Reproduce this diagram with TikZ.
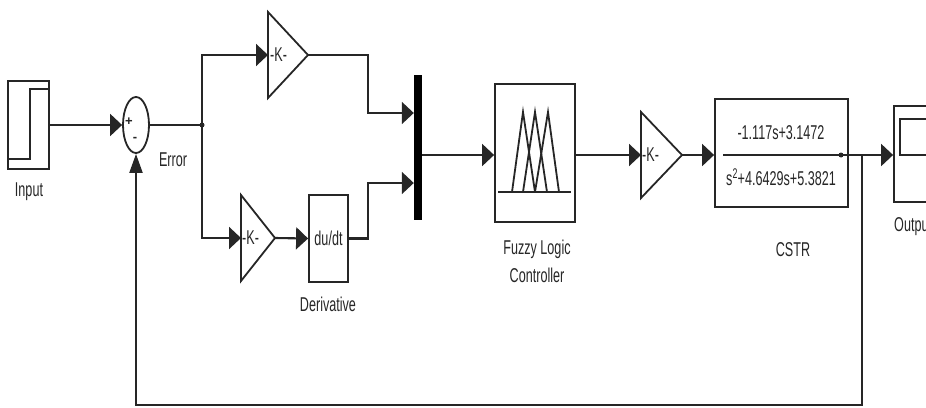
\documentclass[tikz,border=0pt]{standalone}
\usepackage{fontspec}
\setmainfont{Liberation Sans}
\usepackage{graphicx}
\usetikzlibrary{arrows.meta,shapes.geometric}
\newcommand{\sqz}[1]{\scalebox{0.63}[1]{#1}}
\begin{document}
\begin{tikzpicture}[x=1pt,y=-1pt,
  line/.style={draw=black!85, line width=2.1pt},
  blk/.style={draw=black!85, line width=1.8pt, inner sep=0pt},
  sig/.style={line, -{Triangle[length=12pt,width=22pt]}},
  vsig/.style={line, -{Triangle[length=19pt,width=13pt]}},
  lbl/.style={font=\fontsize{20}{22}\selectfont, inner sep=0pt, text=black!85},
  small/.style={font=\fontsize{13}{14}\selectfont\bfseries, inner sep=0pt, text=black!85},
  gbox/.style={inner sep=0pt, outer sep=0pt},
  dot/.style={circle, fill=black!85, inner sep=0pt, minimum size=5pt}
]
\useasboundingbox (0,0) rectangle (926,407);
\clip (0,0) rectangle (926,407);
\coordinate (lev) at (0,155);

% Input
\node[blk, rectangle, minimum width=41pt, minimum height=88pt] (in) at (28.5,125) {};
\draw[blk] (8,159) -- (30,159) -- (30,89) -- (49,89);
\node[lbl] (inl) at (29,192) {\sqz{Input}};

% Sum
\node[blk, ellipse, minimum width=26pt, minimum height=56pt] (sum) at (136,125) {};
\node[small] (plus) at (129,122) {+};
\node[small] (minus) at (135,139) {-};
\node[lbl] (err) at (173,160) {\sqz{Error}};

% branch
\coordinate (br) at (202,125);
\node[dot] (brd) at (br) {};

% gains
\node[gbox, minimum width=40pt, minimum height=86pt] (g1) at (288,55) {};
\draw[blk] (g1.north west) -- (g1.east) -- (g1.south west) -- cycle;
\node[lbl, anchor=west] (g1l) at ([xshift=2pt]g1.west) {\sqz{-K-}};

\node[gbox, minimum width=34pt, minimum height=86pt] (g2) at (258,238) {};
\draw[blk] (g2.north west) -- (g2.east) -- (g2.south west) -- cycle;
\node[lbl, anchor=west] (g2l) at ([xshift=1pt]g2.west) {\sqz{-K-}};

\node[gbox, minimum width=41pt, minimum height=86pt] (g3) at (661.5,155) {};
\draw[blk] (g3.north west) -- (g3.east) -- (g3.south west) -- cycle;
\node[lbl, anchor=west] (g3l) at ([xshift=1pt]g3.west) {\sqz{-K-}};

% derivative
\node[blk, rectangle, minimum width=39pt, minimum height=87pt] (der) at (328.5,238.5) {};
\node[lbl] (derl) at (der.center) {\sqz{du/dt}};
\node[lbl] (derc) at (328,304) {\sqz{Derivative}};

% mux
\node[rectangle, fill=black, inner sep=0pt, minimum width=8pt, minimum height=145pt] (mux) at (418,147.5) {};

% fuzzy
\node[blk, rectangle, minimum width=80pt, minimum height=138pt] (fz) at (535,153) {};
\draw[blk] (498,192) -- (571,192);
\draw[blk] (512,192) -- (523,112) -- (535,192);
\draw[blk] (523,192) -- (535,112) -- (547,192);
\draw[blk] (535,192) -- (548,112) -- (559,192);
\node[lbl] (fzl1) at (537,249) {\sqz{Fuzzy Logic}};
\node[lbl] (fzl2) at (537,275) {\sqz{Controller}};

% CSTR
\node[blk, rectangle, minimum width=133pt, minimum height=108pt] (cstr) at (781.5,153) {};
\node[lbl] (num) at (781,133) {\sqz{-1.117s+3.1472}};
\node[lbl] (den) at (781,177) {\sqz{s\textsuperscript{2}+4.6429s+5.3821}};
\node[lbl] (cstrl) at (793,250) {\sqz{CSTR}};
\coordinate (fr) at (723,155);
\node[dot, minimum size=5pt] (frd) at (841,155) {};

% Output
\node[blk, rectangle, minimum width=70pt, minimum height=96pt] (out) at (929,154) {};
\draw[blk] (900,119) rectangle (960,155);
\node[lbl, anchor=west] (outl) at (894,227) {\sqz{Output}};

% connectors
\draw[sig] (in.east |- sum.west) -- (sum.west);
\draw[line] (sum.east) -- (br);
\draw[sig] (br) |- (g1.west);
\draw[sig] (br) |- (g2.west);
\coordinate (k1) at (368,113);
\coordinate (k2) at (368,183);
\draw[sig] (g1.east) -| (k1) -- (mux.west |- k1);
\draw[sig] (g2.east) -- (der.west);
\draw[sig] (der.east) -| (k2) -- (mux.west |- k2);
\draw[sig] (mux.east |- lev) -- (fz.west |- lev);
\draw[sig] (fz.east |- lev) -- (g3.west);
\draw[sig] (g3.east) -- (cstr.west |- g3.east);
\draw[sig] (fr) -- (out.west |- lev);
\coordinate (fb) at (862,155);
\coordinate (fbb) at (862,405);
\draw[vsig] (fb) -- (fbb) -| (sum.south);
\end{tikzpicture}
\end{document}
